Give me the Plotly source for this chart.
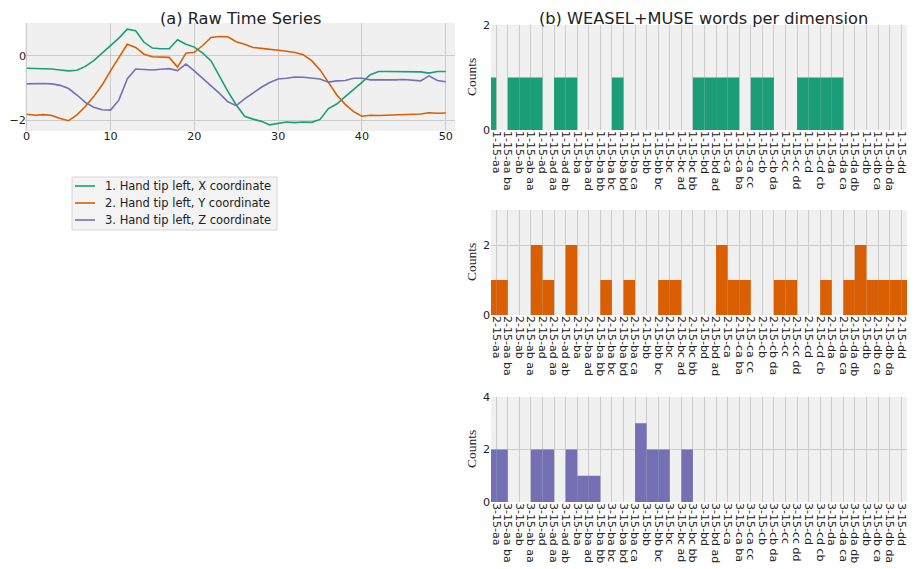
import plotly.graph_objects as go

# The page body adds an 8px margin, so the figure is drawn 8px in from the
# window corner; sizes below are chosen so the figure fills the 915x569 window.
SCREEN_W, SCREEN_H = 915, 569
OFF = 8
FW, FH = SCREEN_W - OFF, SCREEN_H - OFF

# ---------------- data ----------------
t = list(range(51))
x_coord = [-0.39, -0.39, -0.40, -0.41, -0.44, -0.47, -0.45, -0.33, -0.15, 0.08,
           0.34, 0.55, 0.83, 0.78, 0.42, 0.24, 0.22, 0.22, 0.50, 0.36,
           0.27, 0.08, -0.16, -0.65, -1.11, -1.53, -1.88, -1.97, -2.04, -2.15,
           -2.11, -2.06, -2.08, -2.06, -2.07, -1.98, -1.64, -1.50, -1.27, -1.06,
           -0.83, -0.59, -0.49, -0.49, -0.49, -0.49, -0.50, -0.50, -0.54, -0.49, -0.49]
y_coord = [-1.82, -1.85, -1.83, -1.86, -1.95, -2.02, -1.84, -1.58, -1.27, -0.91,
           -0.47, -0.05, 0.36, 0.26, 0.05, -0.03, -0.05, -0.05, -0.35, 0.08,
           0.11, 0.32, 0.57, 0.60, 0.59, 0.44, 0.36, 0.26, 0.23, 0.21,
           0.17, 0.14, 0.10, 0.03, -0.15, -0.44, -0.85, -1.22, -1.51, -1.74,
           -1.88, -1.85, -1.86, -1.85, -1.84, -1.81, -1.82, -1.81, -1.77, -1.79, -1.78]
z_coord = [-0.875, -0.86, -0.86, -0.875, -0.92, -1.02, -1.22, -1.45, -1.60, -1.68,
           -1.69, -1.38, -0.72, -0.41, -0.43, -0.44, -0.42, -0.40, -0.46, -0.26,
           -0.47, -0.70, -0.91, -1.17, -1.43, -1.55, -1.34, -1.15, -0.98, -0.83,
           -0.72, -0.70, -0.66, -0.67, -0.70, -0.72, -0.82, -0.78, -0.77, -0.70,
           -0.70, -0.75, -0.75, -0.76, -0.75, -0.74, -0.75, -0.78, -0.625, -0.77, -0.81]
series_names = ["1. Hand tip left, X coordinate",
                "2. Hand tip left, Y coordinate",
                "3. Hand tip left, Z coordinate"]

word_suffixes = ["aa", "aa ba", "ab", "ab aa", "ad", "ad aa", "ad ab", "ba", "ba ad",
                 "ba bb", "ba bc", "ba bd", "ba ca", "bb", "bb bc", "bc", "bc ad",
                 "bc bb", "bd", "bd ad", "ca", "ca ba", "ca cc", "cb", "cb da", "cc",
                 "cc dd", "cd", "cd cb", "da", "da ca", "da db", "db", "db ca",
                 "db da", "dd", "dd db"]
counts_dim1 = [1, 0, 1, 1, 1, 0, 1, 1, 0, 0, 0, 1, 0, 0, 0, 0, 0, 0, 1, 1, 1, 1, 0,
               1, 1, 0, 0, 1, 1, 1, 1, 0, 0, 0, 0, 0, 0]
counts_dim2 = [1, 1, 0, 0, 2, 1, 0, 2, 0, 0, 1, 0, 1, 0, 0, 1, 1, 0, 0, 0, 2, 1, 1,
               0, 0, 1, 1, 0, 0, 1, 0, 1, 2, 1, 1, 1, 1]
counts_dim3 = [2, 2, 0, 0, 2, 2, 0, 2, 1, 1, 0, 0, 0, 3, 2, 2, 0, 2, 0, 0, 0, 0, 0,
               0, 0, 0, 0, 0, 0, 0, 0, 0, 0, 0, 0, 0, 0]
yticks_dim = [[0, 2], [0, 2], [0, 2, 4]]
ts_xticks = [0, 10, 20, 30, 40, 50]
ts_yticks = [-2, 0]

colors = ["#1b9e77", "#d95f02", "#7570b3"]
BG = "#f0f0f0"
GRID = "#cbcbcb"
FONT = "DejaVu Sans"
TXT = "#222222"
TICK = 11.2


def px(sx):
    return (sx - OFF) / FW


def py(sy):
    return 1 - (sy - OFF) / FH


fig = go.Figure()

for name, vals, col in zip(series_names, [x_coord, y_coord, z_coord], colors):
    fig.add_trace(go.Scatter(x=t, y=vals, mode="lines", name=name,
                             line=dict(color=col, width=1.6), showlegend=False,
                             xaxis="x", yaxis="y"))

all_counts = [counts_dim1, counts_dim2, counts_dim3]
for i, (cnt, col) in enumerate(zip(all_counts, colors)):
    n = len(cnt)
    fig.add_trace(go.Bar(x=[k - 0.5 for k in range(n)], y=cnt, width=1,
                         marker=dict(color=col, line=dict(width=0)),
                         showlegend=False,
                         xaxis="x%d" % (i + 2), yaxis="y%d" % (i + 2)))

layout = dict(
    template="none",
    width=FW, height=FH,
    margin=dict(l=0, r=0, t=0, b=0, pad=0),
    paper_bgcolor="white", plot_bgcolor=BG,
    barmode="overlay",
    font=dict(family=FONT, color=TXT),
    showlegend=False,
    xaxis=dict(domain=[px(25), px(455)], range=[-0.2, 51.1], anchor="y",
               tickvals=ts_xticks, showgrid=True, gridcolor=GRID,
               gridwidth=1.3, zeroline=False, ticks="", showline=False,
               automargin=False, ticklabelstandoff=-3,
               tickfont=dict(size=TICK, family=FONT, color=TXT)),
    yaxis=dict(domain=[py(131), py(23)], range=[-2.34, 1.02], anchor="x",
               tickvals=ts_yticks, showgrid=True, gridcolor=GRID, gridwidth=1.3,
               zeroline=False, ticks="", showline=False, automargin=False,
               ticklabelstandoff=-2,
               tickfont=dict(size=TICK, family=FONT, color=TXT)),
)

bar_doms = [(25, 130), (210, 315), (397, 502)]
annotations = [
    dict(text="(a) Raw Time Series", x=px(240.5), y=1, xref="paper",
         yref="paper", showarrow=False, xanchor="center", yanchor="top",
         borderpad=0, font=dict(size=16.2, family=FONT, color=TXT)),
    dict(text="(b) WEASEL+MUSE words per dimension", x=px(703.5), y=1,
         xref="paper", yref="paper", showarrow=False, xanchor="center",
         yanchor="top", borderpad=0,
         font=dict(size=16.2, family=FONT, color=TXT)),
]
for i, (top, bot) in enumerate(bar_doms):
    xa = "xaxis%d" % (i + 2)
    ya = "yaxis%d" % (i + 2)
    n = len(word_suffixes)
    labels = ["%d-15-%s" % (i + 1, s) for s in word_suffixes]
    layout[xa] = dict(domain=[px(491), px(913)], range=[-0.45, n - 1 + 0.02],
                      anchor="y%d" % (i + 2), tickvals=list(range(n)),
                      ticktext=labels, tickangle=90, showgrid=True,
                      gridcolor=GRID, gridwidth=1.3, zeroline=False, ticks="",
                      showline=False, automargin=False, ticklabelstandoff=0,
                      ticklabeloverflow="allow",
                      tickfont=dict(size=11, family=FONT, color=TXT))
    layout[ya] = dict(domain=[py(bot), py(top)], range=[0, max(all_counts[i]) + 1],
                      anchor="x%d" % (i + 2), tickvals=yticks_dim[i],
                      showgrid=True, gridcolor=GRID, gridwidth=1.3, zeroline=False,
                      ticks="", showline=False, automargin=False,
                      tickfont=dict(size=TICK, family=FONT, color=TXT))
    annotations.append(dict(text="Counts", x=px(471.5), y=py((top + bot) / 2),
                            xref="paper", yref="paper", showarrow=False,
                            textangle=-90, xanchor="center", yanchor="middle",
                            font=dict(size=13.5, family="Liberation Serif",
                                      color=TXT)))

# legend box (drawn as shapes + text, matching the original's compact frame)
shapes = [dict(type="rect", xref="paper", yref="paper",
               x0=px(72), x1=px(277), y0=py(230), y1=py(177),
               fillcolor="#f3f3f3", line=dict(color="#d6d6d6", width=1),
               layer="above")]
leg_rows = [186, 203, 220]
for name, col, ry in zip(series_names, colors, leg_rows):
    shapes.append(dict(type="line", xref="paper", yref="paper",
                       x0=px(75), x1=px(95), y0=py(ry), y1=py(ry),
                       line=dict(color=col, width=1.6), layer="above"))
    annotations.append(dict(text=name, x=px(102.5), y=py(ry), xref="paper",
                            yref="paper", showarrow=False, xanchor="left",
                            yanchor="middle",
                            font=dict(size=11.5, family=FONT, color=TXT)))

layout["annotations"] = annotations
layout["shapes"] = shapes
fig.update_layout(**layout)

fig.write_html("out.html")
